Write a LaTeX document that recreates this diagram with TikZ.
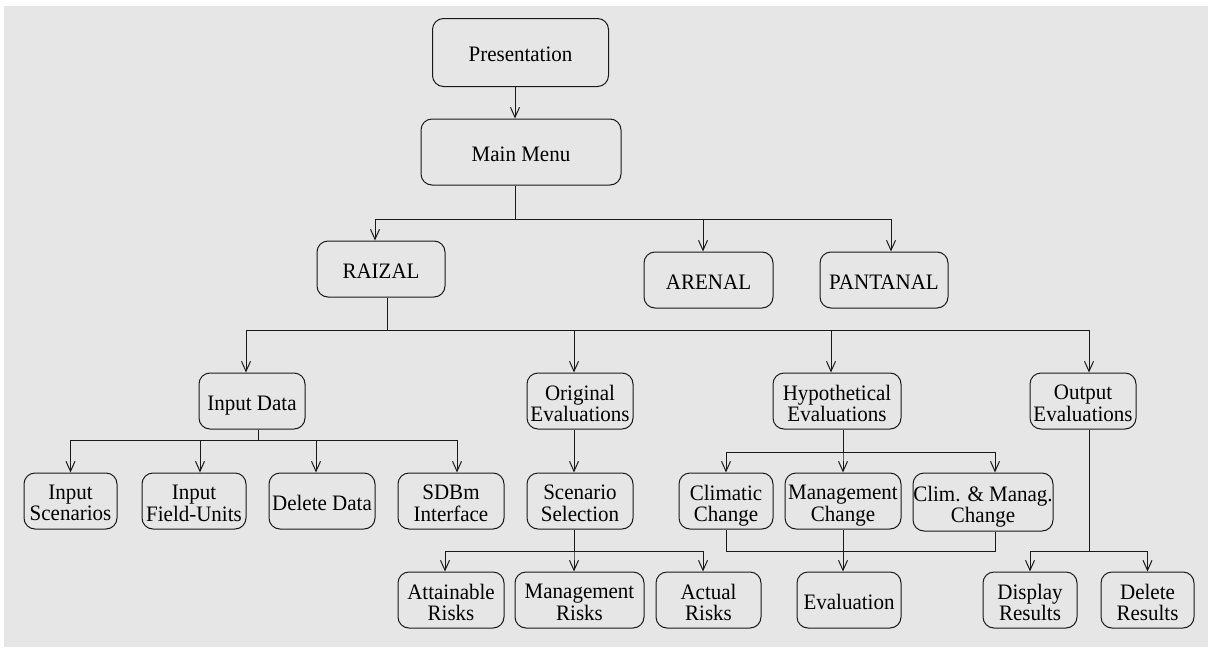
\documentclass[tikz,border=0pt]{standalone}
\usepackage{fontspec}
\usepackage{graphicx}
\setmainfont{Liberation Serif}
\usetikzlibrary{arrows.meta}
\definecolor{panel}{RGB}{230,230,230}
\definecolor{ink}{RGB}{25,25,25}
% box label: slightly tall serif text, centred lines, set a touch below the box centre
\newcommand{\lbl}[1]{\raisebox{-10.7pt}[0pt][0pt]{\scalebox{1}[1.05]{\begin{tabular}{@{}c@{}}#1\end{tabular}}}}
\begin{document}
\begin{tikzpicture}[x=1pt,y=-1pt,
  box/.style={draw=ink, line width=1pt, rounded corners=11pt, align=center,
    inner sep=0pt, font=\fontsize{21}{19.7}\selectfont},
  link/.style={draw=ink, line width=1pt},
  arr/.style={link, -{Straight Barb[length=10pt,width=9pt,line width=1pt]}}]
\useasboundingbox (0,0) rectangle (1208,648);
\fill[panel] (4,6) rectangle (1208,647);

% top level
\node[box, minimum width=176, minimum height=68] (pres) at (520.5,52.5) {\lbl{Presentation}};
\node[box, minimum width=200, minimum height=66] (main) at (521,152) {\lbl{Main Menu}};

% systems
\node[box, minimum width=128, minimum height=56] (raizal) at (381,269) {\lbl{RAIZAL}};
\node[box, minimum width=129, minimum height=56] (arenal) at (708.5,280) {\lbl{ARENAL}};
\node[box, minimum width=128, minimum height=56] (pantanal) at (884,280) {\lbl{PANTANAL}};

% RAIZAL modules
\node[box, minimum width=106, minimum height=56] (inputdata) at (252,401) {\lbl{Input Data}};
\node[box, minimum width=106, minimum height=56] (origeval) at (580,401) {\lbl{Original\\Evaluations}};
\node[box, minimum width=128, minimum height=56] (hypeval) at (837,401) {\lbl{Hypothetical\\Evaluations}};
\node[box, minimum width=106, minimum height=56] (outeval) at (1083,401) {\lbl{Output\\Evaluations}};

% input data tasks
\node[box, minimum width=93, minimum height=56] (inscen) at (70.5,501) {\lbl{Input\\Scenarios}};
\node[box, minimum width=104, minimum height=56] (infield) at (194,501) {\lbl{Input\\Field-Units}};
\node[box, minimum width=106, minimum height=56] (deldata) at (322,501) {\lbl{Delete Data}};
\node[box, minimum width=106, minimum height=56] (sdbm) at (451,501) {\lbl{SDBm\\Interface}};

% evaluation steps
\node[box, minimum width=106, minimum height=56] (scensel) at (580,501) {\lbl{Scenario\\Selection}};
\node[box, minimum width=94, minimum height=56] (climch) at (726,501) {\lbl{Climatic\\Change}};
\node[box, minimum width=116, minimum height=56] (mgmtch) at (843,501) {\lbl{Management\\Change}};
\node[box, minimum width=140, minimum height=58] (climmgmt) at (983,502) {\lbl{Clim. \& Manag.\\Change}};

% results
\node[box, minimum width=106, minimum height=56] (attain) at (451,600) {\lbl{Attainable\\Risks}};
\node[box, minimum width=129, minimum height=56] (mgmtrisk) at (579.5,600) {\lbl{Management\\Risks}};
\node[box, minimum width=105, minimum height=56] (actual) at (708.5,600) {\lbl{Actual\\Risks}};
\node[box, minimum width=104, minimum height=56] (evaluation) at (849,600) {\lbl{Evaluation}};
\node[box, minimum width=94, minimum height=56] (display) at (1030,600) {\lbl{Display\\Results}};
\node[box, minimum width=93, minimum height=56] (delres) at (1147.5,600) {\lbl{Delete\\Results}};

% bus junctions
\coordinate (b1) at (515,219);
\coordinate (b2) at (387,330);
\coordinate (b3) at (258,440);
\coordinate (b4) at (574,551);
\coordinate (b5) at (843,452);
\coordinate (b6) at (1089,551);

% connectors
\draw[arr] (pres.south -| b1) -- (main.north -| b1);

\draw[arr] (main.south -| b1) -- (b1) -| ([xshift=-6]raizal.north);
\draw[arr] (main.south -| b1) -- (b1) -| ([xshift=-5.5]arenal.north);
\draw[arr] (main.south -| b1) -- (b1) -| ([xshift=7]pantanal.north);

\draw[arr] (raizal.south -| b2) -- (b2) -| ([xshift=-6]inputdata.north);
\draw[arr] (raizal.south -| b2) -- (b2) -| ([xshift=-6]origeval.north);
\draw[arr] (raizal.south -| b2) -- (b2) -| ([xshift=-6]hypeval.north);
\draw[arr] (raizal.south -| b2) -- (b2) -| ([xshift=6]outeval.north);

\draw[arr] (inputdata.south -| b3) -- (b3) -| (inscen.north);
\draw[arr] (inputdata.south -| b3) -- (b3) -| ([xshift=6]infield.north);
\draw[arr] (inputdata.south -| b3) -- (b3) -| ([xshift=-6]deldata.north);
\draw[arr] (inputdata.south -| b3) -- (b3) -| ([xshift=6]sdbm.north);

\draw[arr] ([xshift=-6]origeval.south) -- ([xshift=-6]scensel.north);

\draw[arr] (scensel.south -| b4) -- (b4) -| ([xshift=-6]attain.north);
\draw[arr] (scensel.south -| b4) -- (b4) -| ([xshift=-5.5]mgmtrisk.north);
\draw[arr] (scensel.south -| b4) -- (b4) -| ([xshift=-5.5]actual.north);

\draw[arr] (hypeval.south -| b5) -- (b5) -| (climch.north);
\draw[arr] (hypeval.south -| b5) -- (b5) -| (mgmtch.north);
\draw[arr] (hypeval.south -| b5) -- (b5) -| ([xshift=12]climmgmt.north);

\draw[link] (climch.south) |- (995,551) -- ([xshift=12]climmgmt.south);
\draw[arr] (mgmtch.south) -- (evaluation.north -| mgmtch.south);

\draw[arr] (outeval.south -| b6) -- (b6) -| (display.north);
\draw[arr] (outeval.south -| b6) -- (b6) -| (delres.north);
\end{tikzpicture}
\end{document}
